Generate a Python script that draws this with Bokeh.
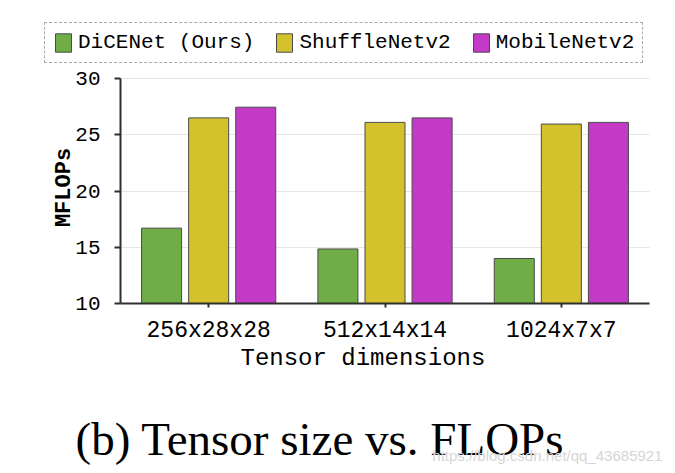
import math
from bokeh.plotting import figure
from bokeh.models import (Range1d, Legend, LegendItem, Label, ColumnDataSource, FixedTicker, Grid)
from bokeh.transform import dodge
from bokeh.embed import file_html
from bokeh.resources import INLINE

categories = ["256x28x28", "512x14x14", "1024x7x7"]
dicenet = [16.7, 14.85, 14.0]
shufflenet = [26.5, 26.1, 25.95]
mobilenet = [27.45, 26.5, 26.1]
series_names = ["DiCENet (Ours)", "ShuffleNetv2", "MobileNetv2"]
colors = ["#70ad47", "#d3c22b", "#c23ac6"]
y_ticks = [10, 15, 20, 25, 30]

W, H = 675, 473
# plot area in pixels (frame = whole canvas)
AX_L, AX_R, AX_T, AX_B = 120, 649, 78, 303
Y0, Y1 = 10, 30
n = len(categories)
xu = (AX_R - AX_L) / n            # px per category
yu = (AX_B - AX_T) / (Y1 - Y0)    # px per MFLOP

xc = [i + 0.5 for i in range(n)]
offsets = [-0.267, 0.0, 0.267]
src = ColumnDataSource(dict(xc=xc, d=dicenet, s=shufflenet, m=mobilenet))

MONO = "Liberation Mono"

p = figure(width=W, height=H,
           x_range=Range1d(-AX_L / xu, n + (W - AX_R) / xu),
           y_range=Range1d(Y0 - (H - AX_B) / yu, Y1 + AX_T / yu),
           output_backend="svg", toolbar_location=None,
           min_border_left=0, min_border_right=0, min_border_top=0, min_border_bottom=0)
p.outline_line_color = None
p.background_fill_color = "white"
p.border_fill_color = "white"

renderers = []
for key, off, col in zip(["d", "s", "m"], offsets, colors):
    r = p.vbar(x=dodge("xc", off), top=key, bottom=Y0, width=0.227, source=src,
               fill_color=col, line_color="#4a4a4a", line_width=1)
    renderers.append(r)

# axes at fixed locations inside the (full-canvas) frame
p.yaxis.fixed_location = 0
p.yaxis.bounds = (Y0, Y1)
p.yaxis.ticker = FixedTicker(ticks=y_ticks)
p.yaxis.minor_tick_line_color = None
p.yaxis.major_tick_out = 6
p.yaxis.major_tick_in = 0
p.yaxis.major_label_standoff = 14
p.yaxis.major_label_text_font = MONO
p.yaxis.major_label_text_font_size = "21px"
p.yaxis.major_label_text_color = "black"

p.xaxis.fixed_location = Y0
p.xaxis.bounds = (0, n)
p.xaxis.ticker = FixedTicker(ticks=xc)
p.xaxis.major_label_overrides = {x: c for x, c in zip(xc, categories)}
p.xaxis.minor_tick_line_color = None
p.xaxis.major_tick_out = 4
p.xaxis.major_tick_in = 0
p.xaxis.major_label_standoff = 10
p.xaxis.major_label_text_font = MONO
p.xaxis.major_label_text_font_size = "23px"
p.xaxis.major_label_text_color = "black"

for ax in (p.xaxis, p.yaxis):
    ax.axis_line_color = "#2f2f2f"
    ax.axis_line_width = 2
    ax.major_tick_line_color = "#2f2f2f"
    ax.major_tick_line_width = 2

p.xgrid.grid_line_color = None
p.ygrid.grid_line_color = "#e6e6e6"
p.ygrid.grid_line_width = 1
p.ygrid.bounds = (Y0, Y1)
if "cross_bounds" in Grid.properties():
    p.ygrid.cross_bounds = (0, n)

legend = Legend(items=[LegendItem(label=nm, renderers=[r]) for nm, r in zip(series_names, renderers)],
                orientation="horizontal", location=(44, H - 63),
                glyph_width=20, glyph_height=23, label_standoff=5, spacing=20,
                padding=8, margin=0,
                label_text_font=MONO, label_text_font_size="21px", label_text_color="black",
                border_line_color="#555555", border_line_dash="2 2", border_line_width=1,
                background_fill_alpha=1.0)
p.add_layout(legend, "center")

ylabel = Label(x=64, y=H - 187, x_units="screen", y_units="screen", text="MFLOPs",
               angle=math.pi / 2, text_align="center", text_baseline="alphabetic",
               text_font=MONO, text_font_style="bold", text_font_size="22px", text_color="black")
xlabel = Label(x=240, y=H - 358, x_units="screen", y_units="screen", text="Tensor dimensions",
               text_align="left", text_baseline="alphabetic",
               text_font=MONO, text_font_size="24px", text_color="black")
caption = Label(x=75, y=H - 438, x_units="screen", y_units="screen",
                text="(b) Tensor size vs. FLOPs", text_font="Liberation Serif",
                text_font_size="47px", text_color="black", text_baseline="alphabetic")
mark = Label(x=662, y=H - 455, x_units="screen", y_units="screen",
             text="https://blog.csdn.net/qq_43685921", text_font="Liberation Sans",
             text_font_size="15px", text_color="#d6d6d6", text_baseline="alphabetic",
             text_align="right")
for lb in (ylabel, xlabel, caption, mark):
    p.add_layout(lb)

open("out.html", "w").write(file_html(p, INLINE))
